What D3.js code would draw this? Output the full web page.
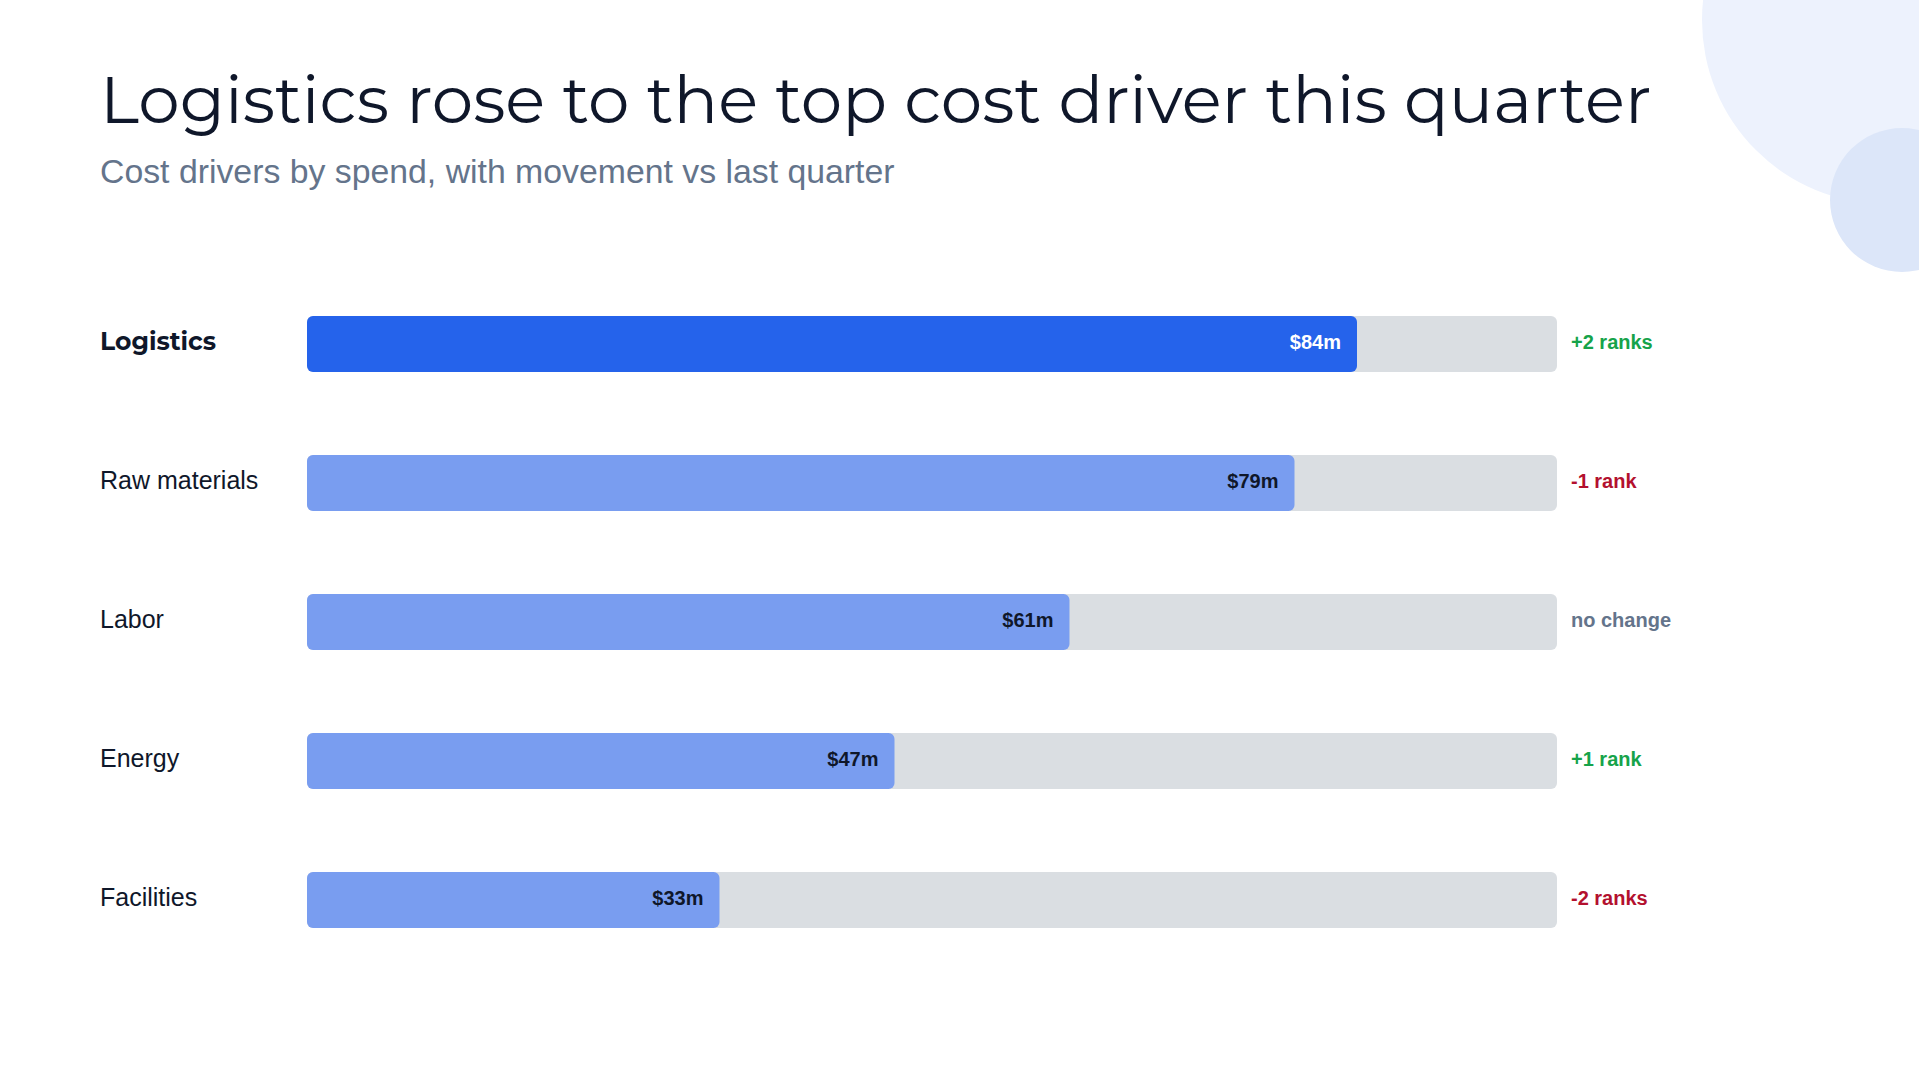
<!DOCTYPE html>
<html>
<head>
<meta charset="utf-8">
<script src="https://cdn.jsdelivr.net/npm/d3@7"></script>
<style>
  html, body { margin: 0; padding: 0; background: #ffffff; }
  svg { display: block; }
</style>
</head>
<body>
<script>
// data
var categories = ["Logistics", "Raw materials", "Labor", "Energy", "Facilities"];
var spend = [84, 79, 61, 47, 33];          // $m
var rankMove = [2, -1, 0, 1, -2];          // change vs last quarter
var highlight = "Logistics";

var width = 1919;
var height = 1080;

var svg = d3.select("body").append("svg")
  .attr("width", width)
  .attr("height", height);

// background decoration
svg.append("circle").attr("cx", 1886).attr("cy", 20).attr("r", 184).attr("fill", "#edf2fd");
svg.append("circle").attr("cx", 1902).attr("cy", 200).attr("r", 72).attr("fill", "#dce6f9");

svg.append("text")
  .attr("x", 100).attr("y", 123)
  .style("font-family", "Montserrat, Lato, 'Open Sans', sans-serif")
  .style("font-size", "66px")
  .style("font-weight", 400)
  .attr("fill", "#0f172a")
  .text("Logistics rose to the top cost driver this quarter");

svg.append("text")
  .attr("x", 100).attr("y", 183)
  .style("font-family", "'Liberation Sans', Arial, sans-serif")
  .style("font-size", "33.8px")
  .attr("fill", "#64748b")
  .text("Cost drivers by spend, with movement vs last quarter");

var bh = 56;
var x = d3.scaleLinear().domain([0, 100]).range([307, 1557]);
var y = d3.scaleBand().domain(categories).range([316, 928]).paddingInner(83 / 139).paddingOuter(0);

var rows = svg.append("g").selectAll("g")
  .data(categories.map(function (c, i) {
    return { name: c, value: spend[i], move: rankMove[i] };
  }))
  .enter().append("g")
  .attr("transform", function (d) { return "translate(0," + y(d.name) + ")"; });

rows.append("rect")
  .attr("x", x(0)).attr("y", 0)
  .attr("width", x(100) - x(0)).attr("height", y.bandwidth())
  .attr("rx", 6)
  .attr("fill", "#dadee2");

rows.append("rect")
  .attr("x", x(0)).attr("y", 0)
  .attr("width", function (d) { return x(d.value) - x(0); })
  .attr("height", y.bandwidth())
  .attr("rx", 6)
  .attr("fill", function (d) { return d.name === highlight ? "#2563eb" : "#799df0"; });

rows.append("text")
  .attr("x", 100).attr("y", bh / 2 + 5.5)
  .style("font-family", function (d) {
    return d.name === highlight ? "Montserrat, Lato, sans-serif" : "'Liberation Sans', Arial, sans-serif";
  })
  .style("font-weight", function (d) { return d.name === highlight ? 700 : 400; })
  .style("font-size", "25px")
  .attr("fill", "#0f172a")
  .text(function (d) { return d.name; });

rows.append("text")
  .attr("x", function (d) { return x(d.value) - 16; })
  .attr("y", bh / 2 + 4.5)
  .attr("text-anchor", "end")
  .style("font-family", "'Liberation Sans', Arial, sans-serif")
  .style("font-weight", 700)
  .style("font-size", "20px")
  .attr("fill", function (d) { return d.name === highlight ? "#ffffff" : "#0f172a"; })
  .text(function (d) { return "$" + d.value + "m"; });

rows.append("text")
  .attr("x", x(100) + 14)
  .attr("y", bh / 2 + 4.5)
  .style("font-family", "'Liberation Sans', Arial, sans-serif")
  .style("font-weight", 700)
  .style("font-size", "20px")
  .attr("fill", function (d) {
    return d.move > 0 ? "#16a34a" : d.move < 0 ? "#b3102e" : "#64748b";
  })
  .text(function (d) {
    if (d.move === 0) return "no change";
    var n = Math.abs(d.move);
    return (d.move > 0 ? "+" : "-") + n + (n === 1 ? " rank" : " ranks");
  });
</script>
</body>
</html>
